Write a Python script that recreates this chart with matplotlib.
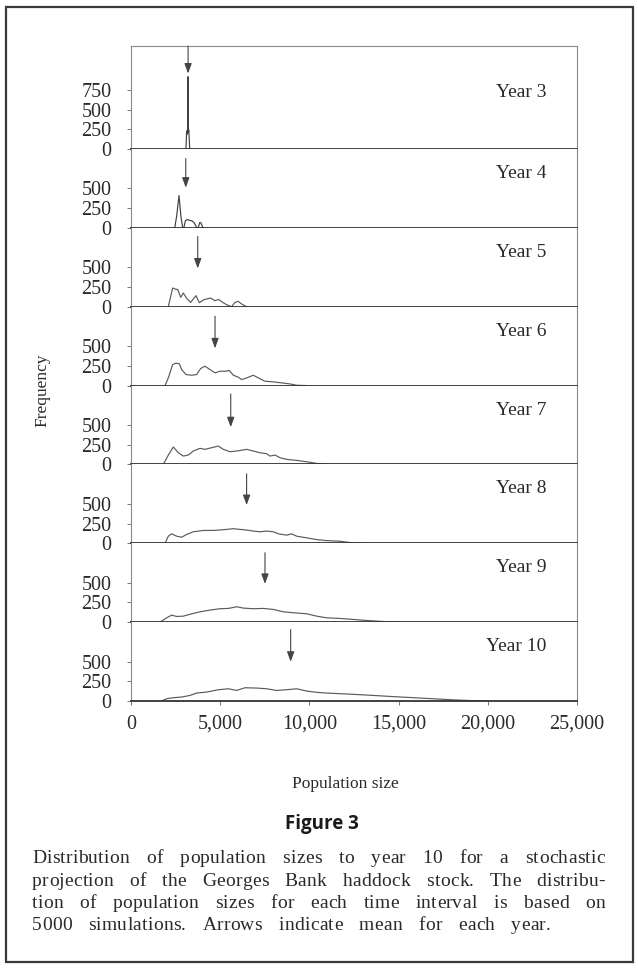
import matplotlib
matplotlib.use("Agg")
import matplotlib.pyplot as plt
from matplotlib.patches import Rectangle

# ---- data -------------------------------------------------------------
years = [3, 4, 5, 6, 7, 8, 9, 10]

year3_x = [3080, 3120, 3140, 3170, 3190, 3210, 3240, 3260, 3290]
year3_y = [0, 230, 200, 190, 920, 210, 240, 150, 0]

year4_x = [2450, 2560, 2690, 2800, 2900, 2960, 3050, 3150, 3280, 3400, 3520,
           3620, 3700, 3760, 3860, 3930, 4010, 4080]
year4_y = [0, 150, 410, 140, 0, 0, 90, 105, 95, 90, 70, 30, 0, 0, 70, 60, 10, 0]

year5_x = [2090, 2335, 2520, 2615, 2785, 2935, 3120, 3345, 3645, 3830, 4090,
           4465, 4710, 4895, 5140, 5360, 5640, 5830, 6015, 6200, 6485]
year5_y = [0, 237, 220, 220, 119, 174, 106, 55, 140, 51, 89, 110, 76, 93, 55,
           25, 0, 55, 68, 34, 0]

year6_x = [1906, 2092, 2335, 2522, 2709, 2840, 3083, 3400, 3680, 3904, 4148,
           4428, 4708, 4988, 5269, 5512, 5736, 6016, 6203, 6484, 6857, 7137,
           7511, 7978, 8445, 8912, 9287, 9847]
year6_y = [0, 97, 267, 284, 276, 203, 140, 131, 140, 216, 246, 203, 161, 182,
           182, 191, 131, 106, 76, 97, 131, 97, 55, 47, 34, 21, 4, 0]

year7_x = [1812, 2092, 2373, 2653, 2933, 3214, 3494, 3867, 4148, 4521, 4895,
           5176, 5549, 5922, 6484, 6857, 7231, 7604, 7791, 8071, 8352, 8725,
           9287, 9847, 10408, 10968]
year7_y = [0, 119, 221, 148, 106, 119, 170, 204, 191, 212, 233, 191, 161, 170,
           191, 170, 148, 136, 106, 119, 85, 64, 51, 34, 13, 0]

year8_x = [1906, 2092, 2279, 2560, 2840, 3120, 3494, 4055, 4615, 5176, 5736,
           6110, 6484, 6857, 7231, 7604, 7978, 8258, 8725, 9006, 9287, 9847,
           10408, 10968, 11716, 12461, 13211]
year8_y = [0, 90, 120, 90, 77, 112, 146, 163, 163, 172, 185, 176, 168, 155,
           146, 155, 146, 120, 103, 120, 90, 69, 47, 34, 26, 4, 0]

year9_x = [1625, 2000, 2279, 2560, 2933, 3400, 3867, 4428, 4988, 5456, 5922,
           6297, 6857, 7418, 7978, 8539, 9100, 9847, 10408, 10968, 11716,
           12461, 13211, 14143, 15078]
year9_y = [0, 55, 89, 72, 76, 106, 131, 153, 170, 174, 195, 178, 170, 174, 161,
           131, 119, 106, 76, 55, 47, 34, 21, 8, 0]

year10_x = [1700, 2000, 2370, 2840, 3310, 3680, 4240, 4900, 5460, 5920, 6390,
            7040, 7600, 8160, 8730, 9290, 9850, 10410, 11000, 12000, 13000,
            14000, 15000, 16000, 17000, 18000, 19000, 20000]
year10_y = [0, 29, 42, 50, 71, 101, 113, 143, 155, 134, 168, 164, 155, 134,
            143, 155, 126, 110, 100, 90, 78, 65, 52, 40, 28, 15, 6, 0]

series_x = [year3_x, year4_x, year5_x, year6_x, year7_x, year8_x, year9_x, year10_x]
series_y = [year3_y, year4_y, year5_y, year6_y, year7_y, year8_y, year9_y, year10_y]

# mean population size for each year (arrow positions) and arrow extent
year_means = [3200, 3070, 3740, 4710, 5590, 6480, 7510, 8950]
arrow_start = [1310, 880, 890, 880, 893, 880, 880, 906]
arrow_tip = [960, 510, 485, 472, 472, 485, 485, 498]

x_ticks = [0, 5000, 10000, 15000, 20000, 25000]
x_tick_labels = ["0", "5,000", "10,000", "15,000", "20,000", "25,000"]
y_ticks_first = [0, 250, 500, 750]
y_ticks_rest = [0, 250, 500]

caption_title = "Figure 3"
caption_lines = [
    "Distribution of population sizes to year 10 for a stochastic",
    "projection of the Georges Bank haddock stock.  The distribu-",
    "tion of population sizes for each time interval is based on",
    "5000 simulations.  Arrows indicate mean for each year.",
]

# ---- figure -----------------------------------------------------------
W, H = 638, 968
fig = plt.figure(figsize=(W / 100, H / 100), dpi=100)
SERIF = ["Liberation Serif", "DejaVu Serif"]
TXT = "#2a2a2a"

gs = fig.add_gridspec(len(years), 1, height_ratios=[103] + [78.86] * 7,
                      left=131 / W, right=577 / W, top=1 - 46 / H,
                      bottom=1 - 701 / H, hspace=0)

axes = []
for i, yr in enumerate(years):
    ax = fig.add_subplot(gs[i])
    axes.append(ax)
    ax.plot(series_x[i], series_y[i], color="#404040" if i < 2 else "#5a5a5a",
            lw=0.85)
    ax.set_xlim(0, 25000)
    ax.set_ylim(0, 1310 if i == 0 else 1000)
    ticks = y_ticks_first if i == 0 else y_ticks_rest
    ax.set_yticks(ticks)
    ax.set_yticklabels([str(v) for v in ticks], fontfamily=SERIF,
                       fontsize=14.5, color=TXT)
    ax.tick_params(axis="y", length=3, width=0.7, color="#777", pad=11)
    ax.set_xticks(x_ticks)
    if i == len(years) - 1:
        ax.set_xticklabels(x_tick_labels, fontfamily=SERIF, fontsize=14.5, color=TXT)
        ax.tick_params(axis="x", length=3, width=0.7, color="#777", pad=7)
    else:
        ax.tick_params(axis="x", length=0, labelbottom=False)
    for side in ("left", "right", "top"):
        ax.spines[side].set_color("#8a8a8a")
        ax.spines[side].set_linewidth(0.8)
    ax.spines["top"].set_visible(i == 0)
    ax.spines["bottom"].set_color("#333333")
    ax.spines["bottom"].set_linewidth(1.3)
    ax.spines["bottom"].set_zorder(3)

    ax.annotate("", xy=(year_means[i], arrow_tip[i]),
                xytext=(year_means[i], arrow_start[i]),
                arrowprops=dict(arrowstyle="-|>,head_length=0.6,head_width=0.22",
                                color="#444444", lw=0.8, mutation_scale=10,
                                shrinkA=0, shrinkB=0))
    ax.text(23300, 715 if i == 0 else 690, f"Year {yr}", ha="right", va="center",
            fontfamily=SERIF, fontsize=14, color=TXT)

fig.text(42 / W, 1 - 390 / H, "Frequency", rotation=90, ha="center", va="center",
         fontfamily=SERIF, fontsize=12.5, color=TXT)
fig.text(345 / W, 1 - 784 / H, "Population size", ha="center", va="center",
         fontfamily=SERIF, fontsize=12.5, color=TXT)
fig.text(322 / W, 1 - 824 / H, caption_title, ha="center", va="center",
         fontfamily=["Open Sans", "DejaVu Sans"], fontweight="bold", fontsize=13.5,
         color="#1a1a1a")

# outer frame around the whole figure
fig.add_artist(Rectangle((6 / W, 1 - 962 / H), (633 - 6) / W, (962 - 7) / H,
                         transform=fig.transFigure, fill=False,
                         edgecolor="#3a3a3a", lw=1.6))

# justified, lightly letter-spaced caption drawn glyph by glyph
renderer = fig.canvas.get_renderer()
cap_left, cap_right = 32, 605
line_y = [858, 881, 903, 925]
tracking = 0.25
cap_kw = dict(fontfamily=SERIF, fontsize=14, color=TXT, va="baseline", ha="left")
_adv = {}


def advance(ch):
    if ch not in _adv:
        t1 = fig.text(0, 0, "x" + ch + "x", **cap_kw)
        t2 = fig.text(0, 0, "xx", **cap_kw)
        _adv[ch] = (t1.get_window_extent(renderer).width
                    - t2.get_window_extent(renderer).width)
        t1.remove(); t2.remove()
    return _adv[ch]


def word_width(w):
    return sum(advance(c) for c in w) + tracking * (len(w) - 1)


line_gaps = []
for li, line in enumerate(caption_lines[:-1]):
    words = line.split()
    line_gaps.append((cap_right - cap_left - sum(word_width(w) for w in words))
                     / (len(words) - 1))
last_gap = sum(line_gaps) / len(line_gaps)

for li, line in enumerate(caption_lines):
    words = line.split()
    gap = line_gaps[li] if li < len(line_gaps) else last_gap
    x = cap_left
    base = 1 - (line_y[li] + 5) / H
    for w in words:
        for c in w:
            fig.text(x / W, base, c, **cap_kw)
            x += advance(c) + tracking
        x += gap - tracking

fig.savefig("out.png", dpi=100, facecolor="white")
